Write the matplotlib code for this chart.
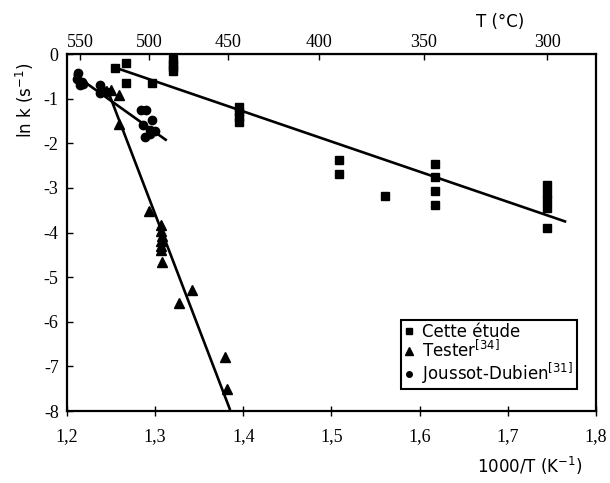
import matplotlib
matplotlib.use("Agg")
import matplotlib.pyplot as plt
from matplotlib.lines import Line2D

# ---- data ----
etude_x = [1.2543, 1.2664, 1.2664, 1.297,
           1.3204, 1.3204, 1.3204, 1.3204,
           1.3948, 1.3948, 1.3948, 1.3948,
           1.509, 1.509, 1.561,
           1.617, 1.617, 1.617, 1.617,
           1.745, 1.745, 1.745, 1.745, 1.745]
etude_y = [-0.32, -0.21, -0.64, -0.64,
           -0.12, -0.22, -0.30, -0.38,
           -1.18, -1.30, -1.41, -1.52,
           -2.38, -2.68, -3.17,
           -2.46, -2.76, -3.06, -3.38,
           -2.94, -3.12, -3.28, -3.44, -3.90]
etude_fit_x = [1.2543, 1.765]
etude_fit_y = [-0.30, -3.75]

tester_x = [1.2497, 1.2588, 1.259, 1.2929,
            1.3072, 1.3072, 1.3078, 1.3072, 1.3072, 1.3072, 1.3078,
            1.3266, 1.3419, 1.3797, 1.3815]
tester_y = [-0.80, -0.92, -1.56, -3.51,
            -3.84, -3.96, -4.07, -4.18, -4.29, -4.40, -4.67,
            -5.57, -5.29, -6.78, -7.51]
tester_fit_x = [1.245, 1.3846]
tester_fit_y = [-0.75, -7.95]

jd_x = [1.2128, 1.211, 1.2166, 1.2147, 1.2185,
        1.2373, 1.239, 1.2373, 1.2449,
        1.2836, 1.290, 1.2966, 1.2862, 1.294, 1.2995, 1.2883, 1.294]
jd_y = [-0.43, -0.55, -0.62, -0.70, -0.66,
        -0.70, -0.81, -0.88, -0.85,
        -1.26, -1.26, -1.48, -1.60, -1.71, -1.72, -1.86, -1.78]
jd_fit_x = [1.209, 1.312]
jd_fit_y = [-0.47, -1.92]

xticks = [1.2, 1.3, 1.4, 1.5, 1.6, 1.7, 1.8]
xtick_labels = ['1,2', '1,3', '1,4', '1,5', '1,6', '1,7', '1,8']
yticks = [0, -1, -2, -3, -4, -5, -6, -7, -8]
ytick_labels = ['0', '-1', '-2', '-3', '-4', '-5', '-6', '-7', '-8']
top_ticks_C = [550, 500, 450, 400, 350, 300]
top_tick_labels = ['550', '500', '450', '400', '350', '300']

# ---- figure ----
fig = plt.figure(figsize=(6.10, 4.83), dpi=100)
ax = fig.add_axes([0.1098, 0.149, 0.867, 0.739])

mk = dict(color='black', linestyle='none', clip_on=False)
ax.plot(etude_x, etude_y, marker='s', markersize=5.4, **mk)
ax.plot(tester_x, tester_y, marker='^', markersize=7, **mk)
ax.plot(jd_x, jd_y, marker='o', markersize=6, **mk)

lw = 1.9
ax.plot(etude_fit_x, etude_fit_y, color='black', lw=lw)
ax.plot(tester_fit_x, tester_fit_y, color='black', lw=lw)
ax.plot(jd_fit_x, jd_fit_y, color='black', lw=lw)

ax.set_xlim(1.2, 1.8)
ax.set_ylim(-8, 0)

serif = 'Liberation Serif'
sans = 'DejaVu Sans'

ax.set_xticks(xticks)
ax.set_xticklabels(xtick_labels, fontfamily=serif, fontsize=13)
ax.set_yticks(yticks)
ax.set_yticklabels(ytick_labels, fontfamily=serif, fontsize=13)
ax.tick_params(axis='x', direction='inout', length=7, width=1, pad=9)
ax.tick_params(axis='y', direction='in', length=4, width=1, pad=6)
for s in ax.spines.values():
    s.set_linewidth(1.6)

top = ax.secondary_xaxis('top', functions=(lambda x: 1000.0 / x - 273.15,
                                           lambda T: 1000.0 / (T + 273.15)))
top.set_xticks(top_ticks_C)
top.set_xticklabels(top_tick_labels, fontfamily=serif, fontsize=13)
top.tick_params(direction='in', length=4, width=1, pad=2)

fig.text(500 / 610, 1 - 22 / 483, 'T (°C)', fontfamily=sans, fontsize=12,
         ha='center', va='center')
fig.text(530 / 610, 1 - 466 / 483, '1000/T (K$^{-1}$)', fontfamily=sans,
         fontsize=12, ha='center', va='center')
fig.text(25 / 610, 1 - 100 / 483, 'ln k (s$^{-1}$)', fontfamily=sans,
         fontsize=12, ha='center', va='center', rotation=90)

handles = [Line2D([], [], color='black', marker='s', linestyle='none', markersize=5),
           Line2D([], [], color='black', marker='^', linestyle='none', markersize=6),
           Line2D([], [], color='black', marker='o', linestyle='none', markersize=4)]
labels = ['Cette étude', 'Tester$^{[34]}$', 'Joussot-Dubien$^{[31]}$']
leg = ax.legend(handles, labels, loc='lower left', bbox_to_anchor=(0.631, 0.062),
                frameon=True, fancybox=False, edgecolor='black', framealpha=1,
                prop={'family': sans, 'size': 12}, handlelength=0.6,
                handletextpad=0.5, borderpad=0.2, labelspacing=-0.05,
                borderaxespad=0)
leg.get_frame().set_linewidth(1.5)

fig.savefig('out.png', dpi=100)
